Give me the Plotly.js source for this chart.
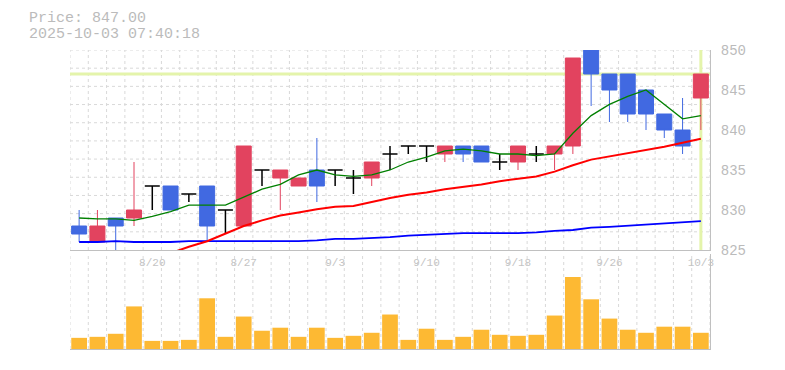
<!DOCTYPE html>
<html><head><meta charset="utf-8">
<script src="https://cdn.plot.ly/plotly-3.0.1.min.js"></script>
<style>html,body{margin:0;padding:0;background:#fff}#chart{width:785px;height:370px}</style>
</head><body><div id="chart"></div>
<script>
// ---- data ----
const dates = ['8/14','8/15','8/18','8/19','8/20','8/21','8/22','8/25','8/26','8/27','8/28','8/29','9/1','9/2','9/3','9/4','9/5','9/8','9/9','9/10','9/11','9/12','9/16','9/17','9/18','9/19','9/22','9/24','9/25','9/26','9/29','9/30','10/1','10/2','10/3'];
const tickDates = ['8/20','8/27','9/3','9/10','9/18','9/26','10/3'];
const openP  = [828,826,829,829,833,833,832,833,830,828,835,834,833,835,835,834,834,837,838,838,837,838,838,836,836,837,837,838,851,847,847,845,842,840,844];
const highP  = [830,830,829,836,833,833,832,833,830,838,835,835,834,839,835,835,836,838,838,838,838,838,838,837,838,838,838,849,851,847,847,845,842,844,847];
const lowP   = [826,826,825,828,830,830,831,826,827,828,833,830,833,831,833,832,833,835,837,836,836,836,836,835,835,836,835,837,843,841,841,840,839,837,840];
const closeP = [827,828,828,830,833,830,832,828,830,838,835,835,834,833,835,834,836,837,838,838,838,837,836,836,838,837,838,849,847,845,842,842,840,838,847];
const ma5  = [829.0,828.9,828.9,828.7,829.2,829.8,830.6,830.6,830.6,831.6,832.6,833.2,834.4,835.0,834.4,834.2,834.4,835.0,836.0,836.6,837.4,837.6,837.4,837.0,837.0,836.8,837.0,839.6,841.8,843.2,844.2,845.0,843.2,841.4,841.8];
const ma25 = [null,null,null,null,null,824.6,825.4,826.1,827.0,828.0,828.7,829.3,829.7,830.1,830.4,830.5,831.0,831.5,831.9,832.2,832.6,832.9,833.2,833.6,833.9,834.2,834.8,835.6,836.3,836.7,837.1,837.5,837.9,838.4,838.9];
const ma75 = [826.0,826.0,826.1,826.0,826.0,826.0,826.1,826.1,826.1,826.1,826.1,826.1,826.1,826.2,826.4,826.4,826.5,826.6,826.8,826.9,827.0,827.1,827.1,827.1,827.1,827.2,827.4,827.5,827.8,827.9,828.05,828.2,828.35,828.5,828.6];
const volume = [33,36,45,126,24,24,27,150,36,96,54,63,36,63,33,39,48,102,27,60,27,36,57,42,39,42,99,213,147,90,57,48,66,66,48];
const priceTicks = [825,830,835,840,845,850];
const headerPrice = 'Price: 847.00';
const headerTime = '2025-10-03 07:40:18';

// ---- build ----
const idx = dates.map((d,i)=>i);
const n = dates.length;
const FONT = 'Liberation Mono, DejaVu Sans Mono, monospace';
const pick = (arr, cond) => arr.filter((v,i)=>cond(i));
const isDoji = i => openP[i] === closeP[i];
const notDoji = i => !isDoji(i);

const traces = [
  {type:'scatter', mode:'lines', x:idx, y:ma75, line:{color:'#0000ff', width:1.8}, hoverinfo:'skip', xaxis:'x', yaxis:'y'},
  {type:'scatter', mode:'lines', x:idx, y:ma25, line:{color:'#ff0000', width:2}, hoverinfo:'skip', xaxis:'x', yaxis:'y'},
  {type:'scatter', mode:'lines', x:idx, y:ma5, line:{color:'#008000', width:1.3}, hoverinfo:'skip', xaxis:'x', yaxis:'y'},
  {type:'candlestick', x:pick(idx,notDoji), open:pick(openP,notDoji), high:pick(highP,notDoji), low:pick(lowP,notDoji), close:pick(closeP,notDoji),
    increasing:{line:{color:'#e2435f', width:1}, fillcolor:'#e2435f'},
    decreasing:{line:{color:'#4169e1', width:1}, fillcolor:'#4169e1'},
    whiskerwidth:0, xaxis:'x', yaxis:'y', hoverinfo:'skip'},
  {type:'candlestick', x:pick(idx,isDoji), open:pick(openP,isDoji), high:pick(highP,isDoji), low:pick(lowP,isDoji), close:pick(closeP,isDoji),
    increasing:{line:{color:'#000000', width:1.5}, fillcolor:'#000000'},
    decreasing:{line:{color:'#000000', width:1.5}, fillcolor:'#000000'},
    whiskerwidth:0, xaxis:'x', yaxis:'y', hoverinfo:'skip'},
  {type:'bar', x:idx, y:volume, marker:{color:'#fdb933', line:{width:0}}, xaxis:'x2', yaxis:'y2', hoverinfo:'skip'}
];

const gridLine = {color:'#d9d9d9', width:1, dash:'dot'};
const shapes = [];
for (let i = 0; i <= n; i++) {
  shapes.push({type:'line', layer:'below', xref:'x', yref:'y domain', x0:i-0.5, x1:i-0.5, y0:0, y1:1, line:gridLine});
  shapes.push({type:'line', layer:'below', xref:'x2', yref:'y2 domain', x0:i-0.5, x1:i-0.5, y0:0, y1:1, line:gridLine});
}
const yMin = priceTicks[0], yMax = priceTicks[priceTicks.length-1];
for (let k = 1; k <= 11; k++) {
  const yv = yMin + k*(yMax-yMin)/11;
  shapes.push({type:'line', layer:'below', xref:'x domain', yref:'y', x0:0, x1:1, y0:yv, y1:yv, line:gridLine});
}
const lastClose = closeP[n-1];
shapes.push({type:'line', layer:'below', xref:'x domain', yref:'y', x0:0, x1:1, y0:lastClose, y1:lastClose, line:{color:'#e4f4ab', width:3}});
shapes.push({type:'line', layer:'below', xref:'x', yref:'y domain', x0:n-1, x1:n-1, y0:0, y1:1, line:{color:'#e4f4ab', width:3}});

const layout = {
  width:785, height:370,
  margin:{l:70, r:75, t:50, b:21, pad:0},
  paper_bgcolor:'#ffffff', plot_bgcolor:'#ffffff',
  showlegend:false,
  boxgap:0.18, boxgroupgap:0, bargap:0.14,
  font:{family:FONT, color:'#bbbbbb'},
  xaxis:{domain:[0,1], range:[-0.5, n-0.5], anchor:'y', rangeslider:{visible:false},
    tickmode:'array', tickvals:tickDates.map(d=>dates.indexOf(d)), ticktext:tickDates,
    showgrid:false, zeroline:false, showline:true, linecolor:'#c0c0c0', linewidth:1,
    ticks:'outside', ticklen:2, tickcolor:'rgba(0,0,0,0)',
    tickfont:{family:FONT, size:11, color:'#c4c4c4'}, fixedrange:true},
  yaxis:{domain:[0.3311,1], range:[yMin,yMax], side:'right', anchor:'x',
    tickmode:'array', tickvals:priceTicks, ticktext:priceTicks.map(String),
    showgrid:false, zeroline:false, showline:true, linecolor:'#c0c0c0', linewidth:1,
    ticks:'outside', ticklen:7, tickcolor:'rgba(0,0,0,0)',
    tickfont:{family:FONT, size:14, color:'#bbbbbb'}, fixedrange:true},
  xaxis2:{domain:[0,1], anchor:'y2', matches:'x', range:[-0.5, n-0.5], showticklabels:false,
    showgrid:false, zeroline:false, showline:true, linecolor:'#c0c0c0', linewidth:1, ticks:''},
  yaxis2:{domain:[0,0.3177], anchor:'x2', range:[0,281], side:'right', showticklabels:false,
    showgrid:false, zeroline:false, showline:true, linecolor:'#c0c0c0', linewidth:1, ticks:''},
  shapes:shapes,
  annotations:[
    {text:headerPrice, xref:'paper', yref:'paper', x:0, y:1, xanchor:'left', yanchor:'middle', xshift:-42, yshift:32, height:15, borderpad:0, showarrow:false, font:{family:FONT, size:15, color:'#bbbbbb'}},
    {text:headerTime, xref:'paper', yref:'paper', x:0, y:1, xanchor:'left', yanchor:'middle', xshift:-42, yshift:16, height:15, borderpad:0, showarrow:false, font:{family:FONT, size:15, color:'#bbbbbb'}}
  ]
};

Plotly.newPlot('chart', traces, layout, {displayModeBar:false, staticPlot:true});
</script>
</body></html>
